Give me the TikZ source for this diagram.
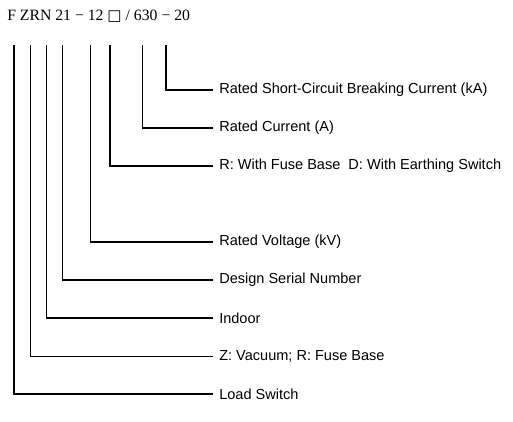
\documentclass[tikz,border=0pt]{standalone}
\usepackage{fontspec}
\setmainfont{Liberation Serif}
\newfontfamily\lblfont{Liberation Sans}
\newfontfamily\symfont{DejaVu Sans}
\begin{document}
\begin{tikzpicture}[x=0.75pt,y=-0.75pt,
  lbl/.style={anchor=west,inner sep=0pt,font=\lblfont\fontsize{10.9}{13}\selectfont},
  lead/.style={line width=0.8pt,black}]
\useasboundingbox (0,0) rectangle (513,421);
\node[anchor=base west,inner sep=0pt,font=\fontsize{11.8}{13}\selectfont] (title) at (7,21)
  {F ZRN 21 − 12 {\symfont\fontsize{11.3}{13}\selectfont □} / 630 − 20};
% tops of leader lines
\coordinate (t1) at (14,45);
\coordinate (t2) at (30.7,45);
\coordinate (t3) at (46.3,45);
\coordinate (t4) at (62.7,45);
\coordinate (t5) at (90.7,45);
\coordinate (t6) at (110,45);
\coordinate (t7) at (142.7,45);
\coordinate (t8) at (166,45);
% labels
\node[lbl] (l8) at (219,90) {Rated Short-Circuit Breaking Current (kA)};
\node[lbl] (l7) at (219,128) {Rated Current (A)};
\node[lbl] (l6) at (219,166) {R: With Fuse Base\ \ D: With Earthing Switch};
\node[lbl] (l5) at (219,242) {Rated Voltage (kV)};
\node[lbl] (l4) at (219,280) {Design Serial Number};
\node[lbl] (l3) at (219,318) {Indoor};
\node[lbl] (l2) at (219,356.5) {Z: Vacuum; R: Fuse Base};
\node[lbl] (l1) at (219,394) {Load Switch};
% leaders
\foreach \i in {1,...,8}{
  \draw[lead] (t\i) |- ([xshift=-4.5pt]l\i.west);
}
\end{tikzpicture}
\end{document}
